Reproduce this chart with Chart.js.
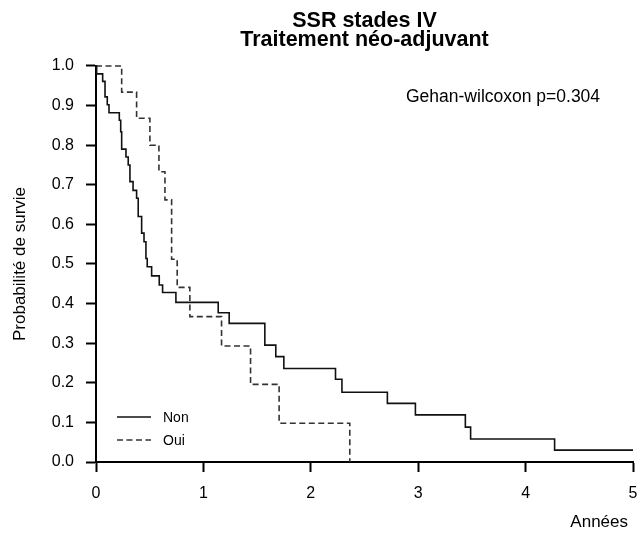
<!DOCTYPE html>
<html>
<head>
<meta charset="utf-8">
<script src="https://cdn.jsdelivr.net/npm/chart.js@4.4.1/dist/chart.umd.min.js"></script>
<style>
  html, body { margin: 0; padding: 0; background: #fff; }
  canvas { display: block; }
</style>
</head>
<body>
<canvas id="km" width="643" height="533"></canvas>
<script>
// Kaplan-Meier survival (SSR, stage IV) by neo-adjuvant treatment
const titleLines = ['SSR stades IV', 'Traitement néo-adjuvant'];
const testLabel = 'Gehan-wilcoxon p=0.304';
const xTitle = 'Années';
const yTitle = 'Probabilité de survie';
const seriesNames = ['Non', 'Oui'];

// group "Non": event times (years) and survival after each step
const nonTimes = [0, 0.006, 0.062, 0.084, 0.105, 0.121, 0.217, 0.230, 0.239, 0.279, 0.300, 0.316, 0.345,
  0.378, 0.393, 0.425, 0.447, 0.465, 0.477, 0.518, 0.589, 0.620, 0.744, 1.138, 1.240, 1.572, 1.674,
  1.749, 2.230, 2.290, 2.713, 2.974, 3.439, 3.488, 4.270, 5.000];
const nonSurv = [1.0, 0.980, 0.961, 0.922, 0.902, 0.882, 0.863, 0.834, 0.790, 0.770, 0.750, 0.708, 0.686,
  0.666, 0.620, 0.578, 0.556, 0.514, 0.493, 0.470, 0.447, 0.428, 0.403, 0.377, 0.350, 0.295, 0.266,
  0.236, 0.209, 0.176, 0.148, 0.119, 0.088, 0.058, 0.030, 0.030];

// group "Oui"
const ouiTimes = [0, 0.239, 0.378, 0.502, 0.586, 0.642, 0.704, 0.756, 0.874, 1.169, 1.439, 1.705, 2.363];
const ouiSurv = [1.0, 0.934, 0.868, 0.800, 0.733, 0.662, 0.512, 0.441, 0.367, 0.293, 0.196, 0.098, 0.0];

const xTicks = [0, 1, 2, 3, 4, 5];
const yTicks = [0, 0.1, 0.2, 0.3, 0.4, 0.5, 0.6, 0.7, 0.8, 0.9, 1.0];

const FONT = '"Liberation Sans", Arial, Helvetica, sans-serif';
const toPoints = (ts, ss) => ts.map((t, i) => ({ x: t, y: ss[i] }));

const SOLID = { color: '#111', width: 1.6, dash: [] };
const DASHED = { color: '#333', width: 1.6, dash: [6, 3.5] };

// test statistic text, x-axis caption and the line-style key
const overlay = {
  id: 'overlay',
  afterDraw(chart) {
    const { ctx, chartArea: a } = chart;
    ctx.save();
    ctx.fillStyle = '#000';
    ctx.textBaseline = 'middle';
    ctx.textAlign = 'left';
    ctx.font = '17.5px ' + FONT;
    ctx.fillText(testLabel, a.left + 310, a.top + 31);

    ctx.font = '17px ' + FONT;
    ctx.textAlign = 'right';
    ctx.fillText(xTitle, a.right - 5, a.bottom + 60);
    ctx.textAlign = 'left';

    const styles = [SOLID, DASHED];
    ctx.font = '14px ' + FONT;
    seriesNames.forEach((name, i) => {
      const y = a.top + 351 + i * 23;
      const s = styles[i];
      ctx.beginPath();
      ctx.strokeStyle = s.color;
      ctx.lineWidth = s.width;
      ctx.setLineDash(s.dash);
      ctx.moveTo(a.left + 21, y);
      ctx.lineTo(a.left + 55, y);
      ctx.stroke();
      ctx.setLineDash([]);
      ctx.fillStyle = '#000';
      ctx.fillText(name, a.left + 67, y + 1);
    });
    ctx.restore();
  }
};

new Chart(document.getElementById('km'), {
  type: 'line',
  data: {
    datasets: [
      {
        label: seriesNames[0],
        data: toPoints(nonTimes, nonSurv),
        stepped: 'before',
        borderColor: SOLID.color,
        borderWidth: SOLID.width,
        pointRadius: 0,
        fill: false,
        clip: false
      },
      {
        label: seriesNames[1],
        data: toPoints(ouiTimes, ouiSurv),
        stepped: 'before',
        borderColor: DASHED.color,
        borderWidth: DASHED.width,
        borderDash: DASHED.dash,
        pointRadius: 0,
        fill: false,
        clip: false
      }
    ]
  },
  options: {
    responsive: false,
    animation: false,
    devicePixelRatio: 1,
    layout: { padding: { left: 0, right: 10, top: 0, bottom: 0 } },
    plugins: {
      legend: { display: false },
      tooltip: { enabled: false },
      title: {
        display: true,
        text: titleLines,
        fullSize: false,
        color: '#000',
        font: { family: FONT, size: 21.5, weight: 'bold', lineHeight: 0.86 },
        padding: { top: 12, bottom: 17 }
      }
    },
    scales: {
      x: {
        type: 'linear',
        min: 0,
        max: 5,
        afterBuildTicks: s => { s.ticks = xTicks.map(v => ({ value: v })); },
        afterFit: s => { s.height = 71; s.paddingLeft = 0; s.paddingRight = 0; },
        grid: { drawOnChartArea: false, drawTicks: true, tickLength: 10, tickWidth: 2, tickColor: '#000' },
        border: { display: true, color: '#000', width: 2 },
        ticks: { padding: 12, color: '#000', font: { family: FONT, size: 16 }, maxRotation: 0, autoSkip: false },
        title: { display: false }
      },
      y: {
        type: 'linear',
        min: 0,
        max: 1,
        afterBuildTicks: s => { s.ticks = yTicks.map(v => ({ value: v })); },
        afterFit: s => { s.width = 96; s.paddingTop = 0; s.paddingBottom = 0; },
        grid: { drawOnChartArea: false, drawTicks: true, tickLength: 10, tickWidth: 2, tickColor: '#000' },
        border: { display: true, color: '#000', width: 2 },
        ticks: {
          padding: 12, color: '#000', font: { family: FONT, size: 16 }, autoSkip: false,
          callback: v => Number(v).toFixed(1)
        },
        title: {
          display: true, text: yTitle, color: '#000',
          font: { family: FONT, size: 17 }, padding: { top: 10, bottom: 0 }
        }
      }
    }
  },
  plugins: [overlay]
});
</script>
</body>
</html>
